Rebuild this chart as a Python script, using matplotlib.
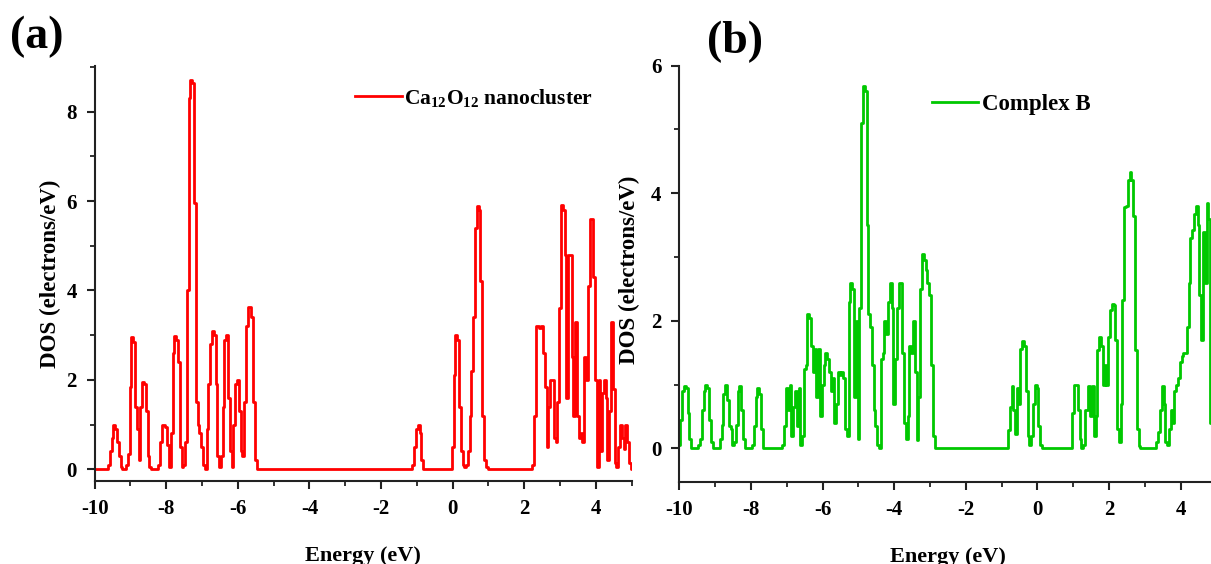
import numpy as np
import matplotlib
matplotlib.use("Agg")
import matplotlib.pyplot as plt
from matplotlib.ticker import MultipleLocator

# ---------------- data ----------------
energy = np.round(np.arange(-10.0, 5.0001, 0.05), 2)   # eV grid, 0.05 eV

# Panel (a): Ca12O12 nanocluster  (one row = 1 eV)
dos_a = [
    0, 0, 0, 0, 0, 0, 0, 0, 0.1, 0.4, 0.7, 1.0, 0.9, 0.6, 0.3, 0.05, 0, 0, 0.1, 0.35,           # -10 .. -9.05
    1.85, 2.95, 2.85, 1.4, 0.9, 0.2, 1.4, 1.96, 1.9, 1.3, 0.3, 0.05, 0, 0, 0, 0, 0.1, 0.6, 1.0, 1.0,  # -9 .. -8.05
    0.95, 0.55, 0.05, 0.8, 2.6, 2.97, 2.9, 2.4, 0.5, 0.05, 0.1, 0.6, 4.0, 8.3, 8.7, 8.65, 5.95, 1.5, 1.0, 0.8,  # -8 .. -7.05
    0.5, 0.1, 0.0, 0.9, 1.9, 2.8, 3.1, 3.0, 1.9, 0.3, 0.05, 0.3, 1.4, 2.9, 3.0, 1.6, 0.4, 0.05, 1.0, 1.9,  # -7 .. -6.05
    2.0, 1.3, 0.4, 0.3, 1.5, 3.2, 3.64, 3.64, 3.4, 1.5, 0.2, 0, 0, 0, 0, 0, 0, 0, 0, 0,  # -6 .. -5.05
    0, 0, 0, 0, 0, 0, 0, 0, 0, 0, 0, 0, 0, 0, 0, 0, 0, 0, 0, 0,  # -5 .. -4.05
    0, 0, 0, 0, 0, 0, 0, 0, 0, 0, 0, 0, 0, 0, 0, 0, 0, 0, 0, 0,  # -4 .. -3.05
    0, 0, 0, 0, 0, 0, 0, 0, 0, 0, 0, 0, 0, 0, 0, 0, 0, 0, 0, 0,  # -3 .. -2.05
    0, 0, 0, 0, 0, 0, 0, 0, 0, 0, 0, 0, 0, 0, 0, 0, 0, 0, 0.1, 0.5,  # -2 .. -1.05
    0.9, 1.0, 0.8, 0.2, 0, 0, 0, 0, 0, 0, 0, 0, 0, 0, 0, 0, 0, 0, 0, 0,  # -1 .. -0.05
    0.5, 2.1, 3.0, 2.9, 1.4, 0.4, 0.1, 0.05, 0.1, 0.4, 1.2, 2.2, 3.4, 5.4, 5.88, 5.8, 4.2, 1.2, 0.2, 0.05,  # 0 .. 0.95
    0, 0, 0, 0, 0, 0, 0, 0, 0, 0, 0, 0, 0, 0, 0, 0, 0, 0, 0, 0,  # 1 .. 1.95
    0, 0, 0, 0, 0, 0.1, 1.2, 3.2, 3.2, 3.15, 3.2, 2.6, 1.85, 0.5, 1.4, 2.0, 2.0, 0.7, 0.6, 1.5,  # 2 .. 2.95
    3.6, 5.9, 5.8, 4.8, 1.6, 4.8, 4.8, 2.5, 1.2, 3.3, 1.2, 0.7, 0.8, 0.6, 2.5, 2.0, 4.1, 5.6, 5.6, 4.3,  # 3 .. 3.95
    2.0, 0.05, 2.0, 0.4, 1.7, 2.0, 1.6, 0.2, 1.3, 3.3, 1.8, 0.15, 0.05, 0.5, 1.0, 0.7, 0.45, 1.0, 0.6, 0.15,  # 4 .. 4.95
    0.0,  # 5
]

# Panel (b): Complex B
dos_b = [
    0.05, 0.45, 0.9, 0.97, 0.95, 0.55, 0.15, 0, 0, 0, 0, 0.05, 0.15, 0.6, 0.9, 1.0, 0.95, 0.45, 0.1, 0,  # -10 .. -9.05
    0, 0, 0, 0.15, 0.37, 0.85, 1.0, 0.75, 0.35, 0.3, 0.05, 0.1, 0.37, 0.9, 0.97, 0.6, 0.15, 0, 0, 0,  # -9 .. -8.05
    0, 0.05, 0.35, 0.8, 0.95, 0.85, 0.3, 0, 0, 0, 0, 0, 0, 0, 0, 0, 0, 0, 0.05, 0.35,  # -8 .. -7.05
    0.95, 0.6, 1.0, 0.2, 0.65, 0.9, 0.35, 0.95, 0.05, 0.2, 1.25, 1.3, 2.1, 2.05, 1.6, 1.2, 1.55, 0.8, 1.55, 0.5,  # -7 .. -6.05
    1.0, 1.3, 1.5, 1.4, 1.2, 0.9, 1.1, 0.4, 0.7, 1.2, 1.15, 1.2, 1.1, 0.3, 0.2, 2.3, 2.59, 2.5, 0.8, 2.0,  # -6 .. -5.05
    0.15, 2.2, 5.1, 5.68, 5.6, 3.5, 2.1, 1.9, 1.3, 0.6, 0.35, 0.05, 0.0, 1.4, 1.5, 2.0, 1.8, 2.3, 2.6, 2.2,  # -5 .. -4.05
    0.7, 1.4, 2.2, 2.6, 2.6, 1.5, 0.4, 0.15, 0.5, 1.6, 1.5, 2.0, 1.2, 0.13, 0.8, 2.5, 3.05, 2.95, 2.8, 2.6,  # -4 .. -3.05
    2.4, 1.3, 0.2, 0, 0, 0, 0, 0, 0, 0, 0, 0, 0, 0, 0, 0, 0, 0, 0, 0,  # -3 .. -2.05
    0, 0, 0, 0, 0, 0, 0, 0, 0, 0, 0, 0, 0, 0, 0, 0, 0, 0, 0, 0,  # -2 .. -1.05
    0, 0, 0, 0, 0.29, 0.65, 0.97, 0.6, 0.23, 0.95, 0.7, 1.55, 1.68, 1.6, 0.9, 0.2, 0.05, 0.2, 0.7, 1.0,  # -1 .. -0.05
    0.95, 0.35, 0.05, 0, 0, 0, 0, 0, 0, 0, 0, 0, 0, 0, 0, 0, 0, 0, 0, 0,  # 0 .. 0.95
    0.55, 1.0, 1.0, 0.6, 0.15, 0.0, 0.05, 0.6, 0.6, 0.97, 0.5, 0.97, 0.2, 0.5, 1.54, 1.75, 1.6, 1.0, 1.3, 1.0,  # 1 .. 1.95
    1.75, 2.17, 2.27, 2.25, 1.7, 0.3, 0.1, 0.7, 2.33, 3.78, 3.8, 4.2, 4.33, 4.2, 3.65, 1.54, 0.3, 0.03, 0, 0,  # 2 .. 2.95
    0, 0, 0, 0, 0, 0, 0, 0.1, 0.25, 0.6, 0.97, 0.7, 0.1, 0.05, 0.3, 0.6, 0.4, 0.9, 1.0, 1.1,  # 3 .. 3.95
    1.35, 1.45, 1.5, 1.5, 1.9, 2.59, 3.3, 3.42, 3.68, 3.8, 3.5, 2.4, 1.7, 3.4, 2.6, 3.84, 3.6, 0.4, 0.4, 0.3,  # 4 .. 4.95
    0.3,  # 5
]

label_a = r"Ca$_{\mathregular{12}}$O$_{\mathregular{12}}$ nanocluster"
label_b = "Complex B"
xlabel = "Energy (eV)"
ylabel = "DOS (electrons/eV)"
xticks = [-10, -8, -6, -4, -2, 0, 2, 4]

# ---------------- style ----------------
plt.rcParams["font.family"] = ["Liberation Serif", "DejaVu Serif"]
plt.rcParams["font.weight"] = "bold"
plt.rcParams["axes.unicode_minus"] = False
plt.rcParams["mathtext.fontset"] = "custom"
plt.rcParams["mathtext.rm"] = "Liberation Serif:bold"
plt.rcParams["mathtext.it"] = "Liberation Serif:bold"
plt.rcParams["mathtext.bf"] = "Liberation Serif:bold"

FS = 15
fig = plt.figure(figsize=(12.11, 5.64), dpi=100)

ax1 = fig.add_axes([0.0782, 0.1472, 0.4434, 0.7358])
ax2 = fig.add_axes([0.5611, 0.1454, 0.4434, 0.7381])


def style(ax, ylim, ymajor, ylab_x, ylab_y):
    ax.set_xlim(-10, 5)
    ax.set_ylim(*ylim)
    ax.set_xticks(xticks)
    ax.xaxis.set_minor_locator(MultipleLocator(1))
    ax.yaxis.set_major_locator(MultipleLocator(ymajor))
    ax.yaxis.set_minor_locator(MultipleLocator(ymajor / 2))
    for s in ("top", "right"):
        ax.spines[s].set_visible(False)
    for s in ("left", "bottom"):
        ax.spines[s].set_linewidth(1.5)
        ax.spines[s].set_color("#222222")
    ax.tick_params(which="major", direction="out", length=6, width=1.5,
                   labelsize=FS, pad=7, colors="#222222")
    ax.tick_params(which="minor", direction="out", length=3.5, width=1.3,
                   colors="#222222")
    for t in ax.get_xticklabels() + ax.get_yticklabels():
        t.set_fontweight("bold")
        t.set_color("black")
    ax.set_xlabel(xlabel, fontsize=16, fontweight="bold")
    ax.xaxis.set_label_coords(0.5, -0.157)
    ax.set_ylabel(ylabel, fontsize=16.5, fontweight="bold")
    ax.yaxis.set_label_coords(ylab_x, ylab_y)


ax1.plot(energy, dos_a, color="#FF0000", lw=2.0, drawstyle="steps-mid",
         label=label_a)
style(ax1, (-0.262, 9.02), 2, -0.062, 0.5)
leg1 = ax1.legend(loc="center left", bbox_to_anchor=(0.484, 0.923),
                  frameon=False, fontsize=15.5, handlelength=2.2,
                  handletextpad=0.1, borderpad=0, borderaxespad=0)

ax2.plot(energy, dos_b, color="#00C800", lw=2.0, drawstyle="steps-mid",
         label=label_b)
style(ax2, (-0.528, 6.0), 2, -0.073, 0.51)
leg2 = ax2.legend(loc="center left", bbox_to_anchor=(0.471, 0.906),
                  frameon=False, fontsize=16.5, handlelength=2.0,
                  handletextpad=0.15, borderpad=0, borderaxespad=0)

fig.text(0.008, 0.935, "(a)", fontsize=33, fontweight="bold", va="center")
fig.text(0.584, 0.925, "(b)", fontsize=33, fontweight="bold", va="center")

fig.savefig("out.png", dpi=100)
